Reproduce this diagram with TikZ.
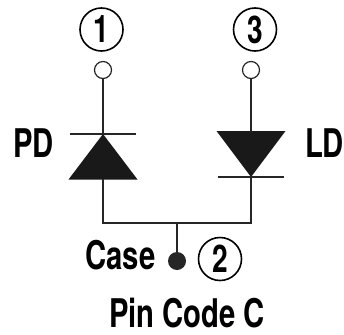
\documentclass[tikz,border=0pt]{standalone}
\usepackage{fontspec}
\setmainfont[FakeStretch=0.74]{TeX Gyre Heros}
\tikzset{
  wire/.style={line width=2pt,draw=black!85},
  bar/.style={line width=2.4pt,draw=black!85},
  pinnum/.style={circle,draw=black,line width=1.6pt,minimum size=43pt,inner sep=0pt,font=\fontsize{38}{38}\selectfont\bfseries},
  term/.style={circle,draw=black!85,fill=white,line width=1.2pt,minimum size=17pt,inner sep=0pt},
  dotterm/.style={circle,fill=black!85,minimum size=18pt,inner sep=0pt},
  lab/.style={inner sep=0pt,font=\fontsize{39.5}{39.5}\selectfont\bfseries},
  tri/.style={fill=black!90,draw=none}
}
\begin{document}
\begin{tikzpicture}[x=1pt,y=-1pt]
\useasboundingbox (0,0) rectangle (344,334);
\node[pinnum] (p1) at (101.5,29.5) {1};
\node[pinnum] (p3) at (255,29.5) {3};
\node[pinnum] (p2) at (220,259) {2};
\node[term] (t1) at (103,70) {};
\node[term] (t3) at (251,70) {};
\node[dotterm] (t2) at (177,261) {};
\coordinate (ja) at (103,223);
\coordinate (jb) at (251,223);
\coordinate (jc) at (177,223);
\coordinate (ka) at (103,134);
\coordinate (kb) at (251,132);
\coordinate (ba) at (103,179);
\coordinate (bb) at (251,177);
\fill[tri] (103,134) -- (137.5,179.5) -- (68.5,179.5) -- cycle;
\fill[tri] (216.5,131) -- (285.5,131) -- (251,177) -- cycle;
\draw[bar] (70,134) -- (135.5,134);
\draw[bar] (218,177) -- (284,177);
\draw[wire] (t1) -- (ka);
\draw[wire] (t3) -- (kb);
\draw[wire] (ba) -- (ja) -- (jb) -- (bb);
\draw[wire] (jc) -- (t2);
\node[lab] (pd) at (33.5,143) {PD};
\node[lab] (ld) at (324.5,143) {LD};
\node[lab] (case) at (120.5,255) {Case};
\node[lab] (code) at (187,313.5) {Pin Code C};
\end{tikzpicture}
\end{document}
